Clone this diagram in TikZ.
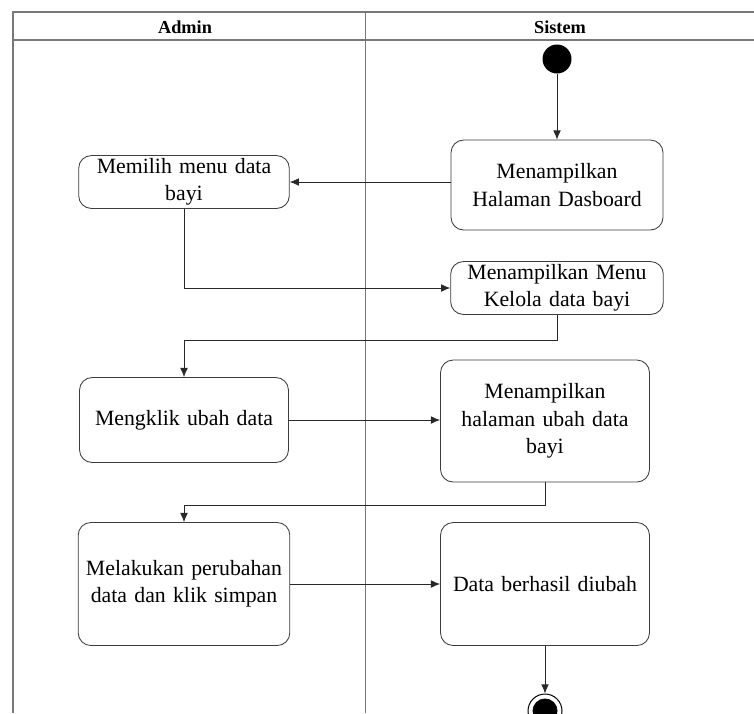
\documentclass[tikz,border=0pt]{standalone}
\usepackage{fontspec}
\setmainfont{Liberation Serif}
\usetikzlibrary{arrows.meta,positioning,calc}
\definecolor{lanegray}{RGB}{120,120,120}
\definecolor{boxgray}{RGB}{60,60,60}
\definecolor{flowgray}{RGB}{40,40,40}

\begin{document}
\begin{tikzpicture}[
      x=0.025cm,y=-0.025cm,
      act/.style={draw=boxgray,line width=0.6pt,rounded corners=9pt,fill=white,align=center,
        font=\fontsize{15.5}{19.5}\selectfont,inner sep=2pt},
      lane/.style={lanegray,line width=0.9pt},
      arr/.style={-{Latex[length=6.5pt,width=5.5pt]},flowgray,line width=0.6pt},
      hd/.style={font=\fontsize{13}{15}\selectfont\bfseries}
    ]
    \useasboundingbox (0,0) rectangle (754,713);

    % swimlanes
    \draw[lane] (754,12) -- (13,12) -- (13,713);
    \draw[lane] (13,40) -- (754,40);
    \draw[lane,line width=0.6pt] (365,12) -- (365,713);
    \node[hd] (admin) at (185,27) {Admin};
    \node[hd] (sistem) at (560,27) {Sistem};

    % start / end
    \node[circle,fill=black,inner sep=0pt,minimum size=29*0.025cm] (start) at (557,59) {};
    \node[circle,draw=black,line width=0.7pt,minimum size=34*0.025cm,inner sep=0pt] (stop) at (545,711) {};
    \fill[black] (stop) circle (12.5);

    % activities
    \node[act,minimum width=212*0.025cm,minimum height=90*0.025cm,text width=190*0.025cm] (dash) at (557,185) {Menampilkan\\ Halaman Dasboard};
    \node[act,minimum width=209*0.025cm,minimum height=48*0.025cm,text width=205*0.025cm] (pilih) at (184,182) {Memilih menu data\\ bayi};
    \node[act,minimum width=211*0.025cm,minimum height=49*0.025cm,text width=207*0.025cm] (kelola) at (557,288) {Menampilkan Menu\\ Kelola data bayi};
    \node[act,minimum width=209*0.025cm,minimum height=85*0.025cm,text width=200*0.025cm] (klik) at (184,420) {Mengklik ubah data};
    \node[act,minimum width=209*0.025cm,minimum height=122*0.025cm,text width=200*0.025cm] (ubah) at (545,421) {Menampilkan\\ halaman ubah data\\ bayi};
    \node[act,minimum width=210*0.025cm,minimum height=123*0.025cm,text width=206*0.025cm] (simpan) at (184,584) {Melakukan perubahan\\ data dan klik simpan};
    \node[act,minimum width=209*0.025cm,minimum height=123*0.025cm,text width=200*0.025cm] (hasil) at (545,584) {Data berhasil diubah};

    \coordinate (b1) at (557,340);
    \coordinate (b2) at (545,505);

    % flows
    \draw[arr] (start) -- (dash.north);
    \draw[arr] (dash.west |- pilih.east) -- (pilih.east);
    \draw[arr] (pilih.south) |- (kelola.west);
    \draw[arr] (kelola.south) -- (b1) -| (klik.north);
    \draw[arr] (klik.east) -- (klik.east -| ubah.west);
    \draw[arr] (ubah.south) -- (b2) -| (simpan.north);
    \draw[arr] (simpan.east) -- (simpan.east -| hasil.west);
    \draw[arr] (hasil.south) -- (stop.north);
  \end{tikzpicture}
\end{document}
